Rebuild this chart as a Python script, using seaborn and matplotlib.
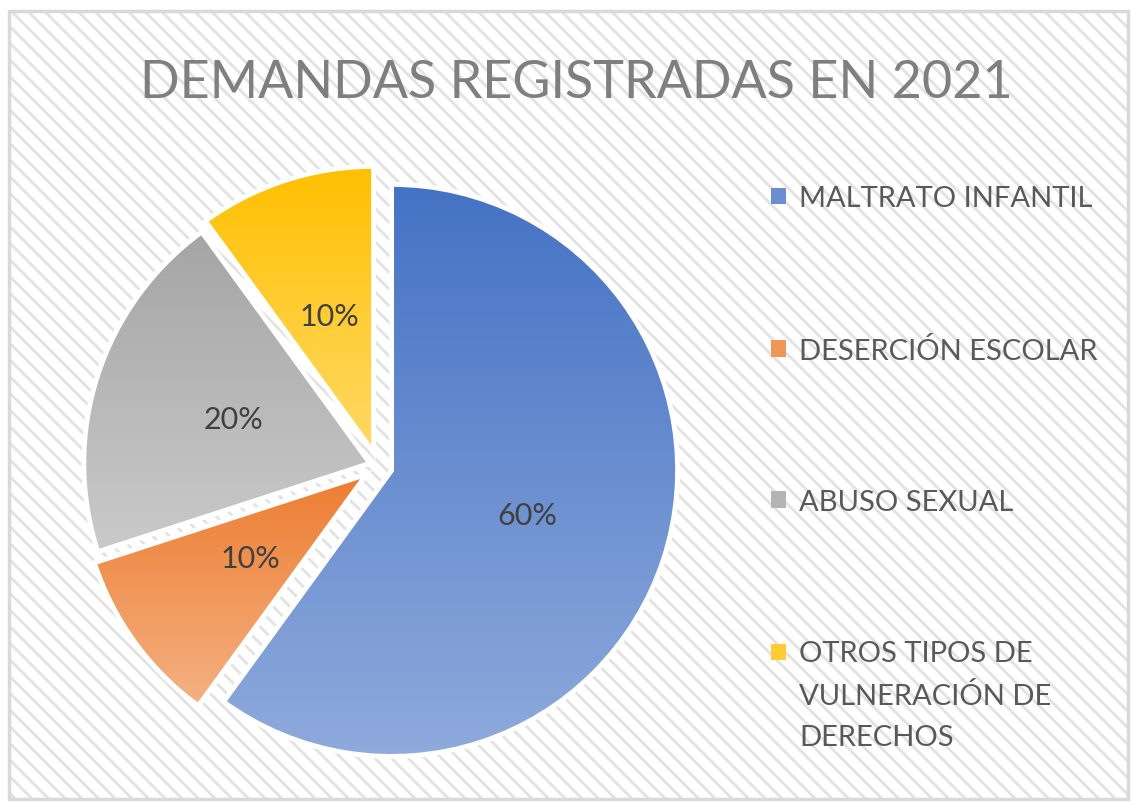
import numpy as np
import matplotlib
matplotlib.use("Agg")
import matplotlib.pyplot as plt
import seaborn as sns
from matplotlib.patches import Rectangle, Patch
from matplotlib.colors import LinearSegmentedColormap
from matplotlib.legend_handler import HandlerPatch

categories = ["MALTRATO INFANTIL", "DESERCIÓN ESCOLAR", "ABUSO SEXUAL",
              "OTROS TIPOS DE\nVULNERACIÓN DE\nDERECHOS"]
values = [60, 10, 20, 10]
explode = [0.05, 0.05, 0.03, 0.05]
top_colors = ["#4472C4", "#ED7D31", "#A5A5A5", "#FFC000"]
bottom_colors = ["#8FAADC", "#F4B183", "#CACACA", "#FFD966"]
legend_colors = ["#6A8ED0", "#F09757", "#B4B4B4", "#FFCD33"]
title = "DEMANDAS REGISTRADAS EN 2021"

sns.set_theme(style="white")
plt.rcParams["font.family"] = ["Lato", "DejaVu Sans"]
plt.rcParams["hatch.linewidth"] = 2.0

W, H = 1132, 803
fig = plt.figure(figsize=(W / 100, H / 100), dpi=100)

# hatched chart area + light border
fig.patches.append(Rectangle((9 / W, 1 - 800 / H), 1119 / W, 788 / H,
                             transform=fig.transFigure, facecolor="white",
                             edgecolor="#e2e2e2", linewidth=0, hatch="\\\\",
                             zorder=-2))
fig.patches.append(Rectangle((9 / W, 1 - 800 / H), 1119 / W, 788 / H,
                             transform=fig.transFigure, facecolor="none",
                             edgecolor="#d9d9d9", linewidth=2.5, zorder=-1))

# pie axes: centre ~ (378, 467) px, radius ~286 px
r_px = 286
lim = 1.15
size = 2 * lim * r_px
cx, cy = 378, H - 467
ax = fig.add_axes([(cx - size / 2) / W, (cy - size / 2) / H, size / W, size / H])
ax.patch.set_visible(False)

wedges, texts, autotexts = ax.pie(values, explode=explode, startangle=90,
                                  counterclock=False, autopct="%1.0f%%",
                                  pctdistance=0.5, radius=1,
                                  wedgeprops=dict(edgecolor="white", linewidth=3.5),
                                  textprops=dict(fontsize=22, color="#404040"))

# vertical gradient inside each slice, darker at the top
for w, c0, c1 in zip(wedges, top_colors, bottom_colors):
    ext = w.get_path().get_extents()
    cmap = LinearSegmentedColormap.from_list("g", [c0, c1])
    grad = np.linspace(0, 1, 256).reshape(-1, 1)
    im = ax.imshow(grad, cmap=cmap, aspect="auto",
                   extent=[ext.x0, ext.x1, ext.y0, ext.y1], origin="upper",
                   zorder=1)
    im.set_clip_path(w)
    w.set_facecolor("none")
    w.set_zorder(2)
for t in autotexts:
    t.set_zorder(3)
ax.set_xlim(-lim, lim)
ax.set_ylim(-lim, lim)
ax.set_aspect("equal")
ax.axis("off")


class FirstLineHandler(HandlerPatch):
    # put the marker next to the first line of a multi-line label
    def __init__(self, shift=0, **kw):
        super().__init__(**kw)
        self.shift = shift

    def create_artists(self, legend, orig_handle, xdescent, ydescent,
                       width, height, fontsize, trans):
        return super().create_artists(legend, orig_handle, xdescent,
                                      ydescent - self.shift, width, height,
                                      fontsize, trans)


handles = [Patch(facecolor=c, edgecolor="none") for c in legend_colors]
leg = fig.legend(handles, categories, loc="upper left",
                 bbox_to_anchor=(745 / W, 1 - 160 / H), frameon=False,
                 fontsize=21, labelcolor="#595959", handlelength=0.5,
                 handleheight=0.5, handletextpad=0.45, labelspacing=4.3,
                 handler_map={handles[3]: FirstLineHandler(shift=31.5)})
for t in leg.get_texts():
    t.set_linespacing(1.72)

fig.text(576 / W, 1 - 84 / H, title, ha="center", va="center",
         fontsize=37.5, color="#7f7f7f")

fig.savefig("out.png", dpi=100)
